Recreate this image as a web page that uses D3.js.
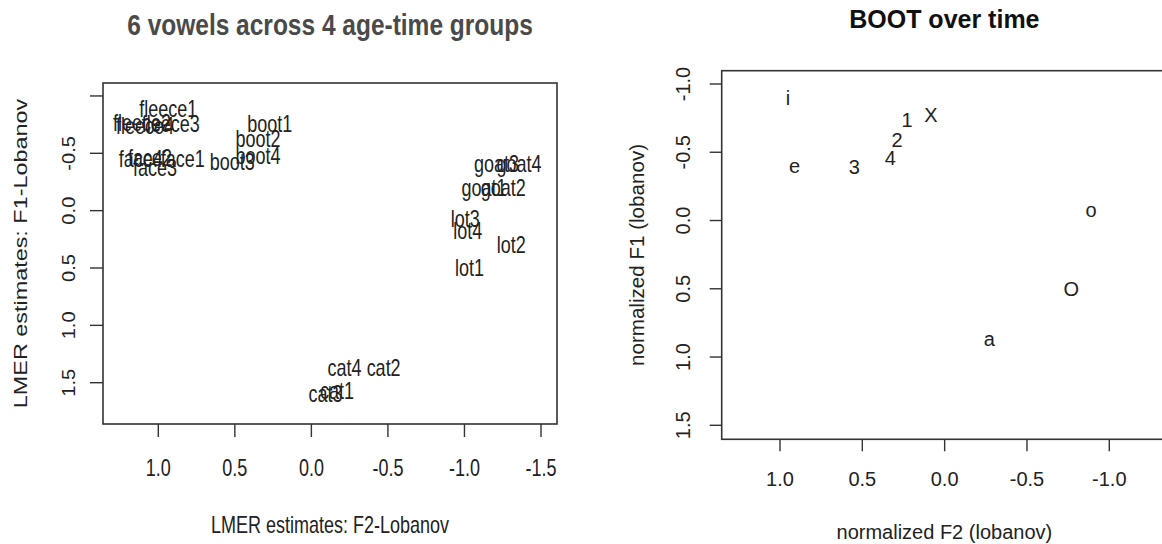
<!DOCTYPE html>
<html>
<head>
<meta charset="utf-8">
<script src="https://cdn.jsdelivr.net/npm/d3@7"></script>
<style>
  body { margin: 0; background: #fff; }
  svg { display: block; font-family: "Liberation Sans", Arial, sans-serif; }
  text { fill: #222; }
</style>
</head>
<body>
<script>
// left panel: lmer estimates per vowel and age-time group
const vowelLabels = ["fleece1", "fleece2", "fleece3", "fleece4",
  "face1", "face2", "face3", "face4",
  "boot1", "boot2", "boot3", "boot4",
  "goat1", "goat2", "goat3", "goat4",
  "lot1", "lot2", "lot3", "lot4",
  "cat1", "cat2", "cat3", "cat4"];
const vowelF2 = [0.935, 1.107, 0.918, 1.087,
  0.840, 1.055, 1.022, 1.114,
  0.272, 0.348, 0.517, 0.348,
  -1.127, -1.254, -1.209, -1.356,
  -1.033, -1.305, -1.005, -1.022,
  -0.168, -0.472, -0.092, -0.217];
const vowelF1 = [-0.887, -0.767, -0.758, -0.741,
  -0.453, -0.462, -0.377, -0.453,
  -0.758, -0.625, -0.427, -0.480,
  -0.203, -0.203, -0.410, -0.410,
  0.494, 0.296, 0.072, 0.174,
  1.575, 1.366, 1.598, 1.366];
const leftXTicks = [1.0, 0.5, 0.0, -0.5, -1.0, -1.5];
const leftYTicks = [-1.0, -0.5, 0.0, 0.5, 1.0, 1.5];
const leftYLabelled = [-0.5, 0.0, 0.5, 1.0, 1.5];

// right panel: BOOT over time
const bootLabels = ["i", "e", "3", "4", "2", "1", "X", "o", "O", "a"];
const bootF2 = [0.951, 0.911, 0.548, 0.330, 0.289, 0.228, 0.083, -0.889, -0.769, -0.271];
const bootF1 = [-0.900, -0.398, -0.393, -0.459, -0.588, -0.739, -0.776, -0.080, 0.500, 0.871];
const rightXTicks = [1.0, 0.5, 0.0, -0.5, -1.0];
const rightYTicks = [-1.0, -0.5, 0.0, 0.5, 1.0, 1.5];

const fmt = d => d.toFixed(1);   // plain hyphen minus like R
const svg = d3.select("body").append("svg").attr("width", 1162).attr("height", 544);

// text placed by transform so it can be stretched (left image is squashed sideways)
function put(sel, xf, yf, rot, sx, sy) {
  return sel.attr("transform", (d, i) =>
    `translate(${xf(d, i)},${yf(d, i)}) rotate(${rot}) scale(${sx},${sy})`)
    .attr("text-anchor", "middle").attr("dy", "0.35em");
}

function panel(opt) {
  const g = svg.append("g");
  const x = d3.scaleLinear().domain(opt.xDom).range(opt.xRange);
  const y = d3.scaleLinear().domain(opt.yDom).range(opt.yRange);
  const b = opt.box;
  const st = opt.stretch;

  g.append("rect")
    .attr("x", b.x0).attr("y", b.y0)
    .attr("width", b.x1 - b.x0).attr("height", b.y1 - b.y0)
    .style("fill", "none").style("stroke", "#333").style("stroke-width", 1.6);

  // x ticks
  g.selectAll(".xt").data(opt.xTicks).join("line")
    .attr("x1", d => x(d)).attr("x2", d => x(d))
    .attr("y1", b.y1).attr("y2", b.y1 + opt.tick)
    .style("stroke", "#333").style("stroke-width", 1.4);
  put(g.selectAll(".xl").data(opt.xTicks).join("text"), d => x(d), () => opt.xLabY, 0, 1, st)
    .style("font-size", opt.fs + "px")
    .text(d => fmt(d));

  // y ticks
  g.selectAll(".yt").data(opt.yTicks).join("line")
    .attr("y1", d => y(d)).attr("y2", d => y(d))
    .attr("x1", b.x0).attr("x2", b.x0 - opt.tick)
    .style("stroke", "#333").style("stroke-width", 1.4);
  put(g.selectAll(".yl").data(opt.yLabelled).join("text"), () => opt.yLabX, d => y(d), -90, opt.yTickLong, 1)
    .style("font-size", opt.fs + "px")
    .text(d => fmt(d));

  // axis titles
  put(g.append("text"), () => (b.x0 + b.x1) / 2, () => opt.xTitleY, 0, 1, st)
    .style("font-size", opt.fs + "px")
    .text(opt.xTitle);
  put(g.append("text"), () => opt.yTitleX, () => (b.y0 + b.y1) / 2, -90, opt.yTitleLong, 1)
    .style("font-size", opt.fs + "px")
    .text(opt.yTitle);

  // main title
  put(g.append("text"), () => (b.x0 + b.x1) / 2, () => opt.titleY, 0, 1, opt.titleStretch)
    .style("font-size", opt.titleFs + "px").style("font-weight", "bold")
    .style("fill", opt.titleColor)
    .text(opt.title);

  // point labels
  put(g.selectAll(".pt").data(opt.labels).join("text"),
      (d, i) => x(opt.f2[i]), (d, i) => y(opt.f1[i]), 0, 1, st)
    .style("font-size", opt.fs + "px")
    .text(d => d);
}

panel({
  xDom: [1, -1.5], xRange: [158.3, 541],
  yDom: [-0.5, 1.5], yRange: [153.3, 382.7],
  box: { x0: 103, x1: 557, y0: 83, y1: 424 },
  xTicks: leftXTicks, yTicks: leftYTicks, yLabelled: leftYLabelled,
  tick: 13, fs: 18, xLabY: 468, yLabX: 69,
  stretch: 1.3, yTickLong: 1.12, yTitleLong: 1.3, titleStretch: 1.2,
  xTitle: "LMER estimates: F2-Lobanov", xTitleY: 525,
  yTitle: "LMER estimates: F1-Lobanov", yTitleX: 21,
  title: "6 vowels across 4 age-time groups", titleY: 25, titleFs: 24.5, titleColor: "#4a4a4a",
  labels: vowelLabels, f2: vowelF2, f1: vowelF1
});

panel({
  xDom: [1, -1], xRange: [780, 1109.3],
  yDom: [-1, 1.5], yRange: [84, 425.3],
  box: { x0: 721.7, x1: 1167, y0: 70.7, y1: 439.3 },
  xTicks: rightXTicks, yTicks: rightYTicks, yLabelled: rightYTicks,
  tick: 12, fs: 20, xLabY: 479, yLabX: 683,
  stretch: 1, yTickLong: 1, yTitleLong: 1.03, titleStretch: 1,
  xTitle: "normalized F2 (lobanov)", xTitleY: 532,
  yTitle: "normalized F1 (lobanov)", yTitleX: 637,
  title: "BOOT over time", titleY: 19, titleFs: 25, titleColor: "#111",
  labels: bootLabels, f2: bootF2, f1: bootF1
});
</script>
</body>
</html>
